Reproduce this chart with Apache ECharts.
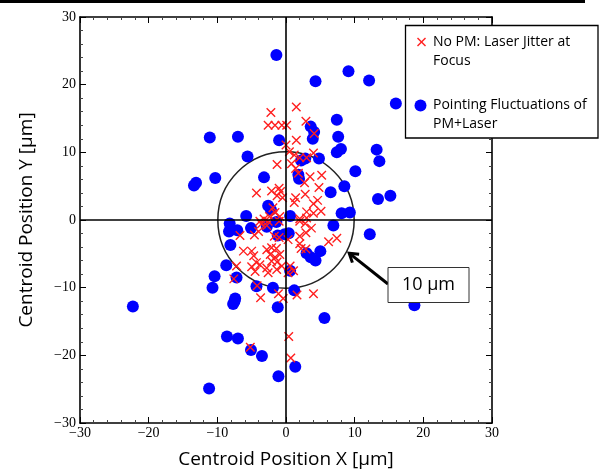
<!DOCTYPE html>
<html>
<head>
<meta charset="utf-8">
<script src="https://cdn.jsdelivr.net/npm/echarts@6/dist/echarts.min.js"></script>
<style>
  html, body { margin: 0; padding: 0; background: #fff; }
  #chart { width: 601px; height: 474px; }
</style>
</head>
<body>
<div id="chart"></div>
<script>
// Centroid positions in µm
const axisMin = -30;
const axisMax = 30;
const axisStep = 10;
const spotRadius = 10; // reference circle, µm

// No PM: laser jitter at focus
const noPmX = [
  -2.2, -2.6, -1.6, -0.6, 0.1, 1.5, 2.9, 4.1, 1.5, 0.0,
  0.5, 1.2, 2.0, 3.0, 4.0, -1.3, 0.8, 1.4, 1.8, 3.5,
  5.2, 2.7, 4.8, -4.3, -2.1, -1.0, -0.8, -1.3, -0.5, 1.4,
  1.2, 2.8, 4.0, 4.6, 3.0, 4.0, 5.1, -1.9, -1.6, -2.4,
  -3.2, -0.9, 2.0, 3.0, -3.8, -2.6, -3.6, -2.8, -1.0, 2.0,
  2.8, 3.7, -4.0, -4.6, -6.7, -1.7, -1.0, 2.0, 2.9, 6.2,
  7.4, 0.3, -6.2, -5.0, -4.7, -4.3, -5.0, -2.8, -2.1, -1.4,
  -2.3, -1.6, -0.9, -2.1, -1.3, -3.8, -2.8, -4.5, -2.6, -1.35,
  -0.6, -7.2, 2.0, 2.2, 2.9, 0.6, 1.1, 0.3, -7.6, -4.2,
  -3.7, -1.1, -0.4, 1.6, 4.0, 0.4, 0.7, -5.2
];
const noPmY = [
  15.9, 14.0, 14.0, 14.0, 14.0, 16.7, 14.6, 12.8, 11.8, 11.1,
  10.1, 9.6, 9.2, 9.2, 9.9, 8.2, 8.3, 7.6, 6.9, 6.4,
  6.6, 5.5, 4.8, 4.0, 4.3, 4.7, 4.2, 3.6, 3.3, 3.3,
  2.6, 3.8, 2.4, 2.9, 1.2, 1.0, 1.3, 1.8, 1.1, 0.5,
  0.15, 0.5, 0.2, 0.3, -0.2, -0.2, -0.6, -0.8, -0.2, -0.2,
  -0.5, -1.2, -1.7, -2.2, -2.3, -2.4, -2.6, -2.4, -1.9, -3.2,
  -2.7, -2.9, -4.6, -4.6, -5.3, -6.3, -6.9, -4.4, -4.1, -4.2,
  -5.1, -5.5, -5.1, -6.1, -6.2, -6.6, -7.1, -7.6, -7.8, -7.3,
  -6.8, -6.8, -3.5, -4.2, -4.3, -6.8, -7.5, -7.8, -8.7, -9.7,
  -11.5, -10.9, -11.6, -11.1, -10.9, -17.2, -20.4, -18.8
];

// Pointing fluctuations of PM + laser
const pmX = [
  -1.4, 9.1, 4.3, 12.1, 16.0, 7.4, 3.6, 4.1, 3.9, 7.6,
  -11.1, -7.0, -1.0, 8.0, 7.4, 13.2, 13.6, -5.6, 4.8, 2.2,
  2.8, 10.1, 1.8, 1.9, -10.3, -3.2, -13.1, -13.4, 8.5, 6.5,
  13.4, 15.2, -2.6, -2.2, 8.1, 9.3, -5.8, 0.6, -8.2, -1.4,
  -2.8, -5.1, -7.1, -8.3, 6.9, -1.2, -0.2, 0.4, 12.2, -8.1,
  3.0, 5.0, 4.3, 3.6, -8.7, 0.6, -7.2, -10.4, -10.7, -4.3,
  -1.9, 1.2, -7.4, -7.5, -7.7, -22.3, -1.2, 18.7, 5.6, -8.6,
  -7.0, -5.1, -3.5, 1.35, -1.1, -11.2
];
const pmY = [
  24.4, 22.0, 20.5, 20.6, 17.2, 14.8, 13.8, 13.0, 12.0, 12.3,
  12.2, 12.3, 11.8, 10.5, 10.0, 10.4, 8.7, 9.4, 9.1, 8.8,
  9.1, 7.2, 6.7, 6.1, 6.2, 6.3, 5.5, 5.1, 5.0, 4.1,
  3.1, 3.6, 2.1, 1.5, 1.0, 1.1, 0.6, 0.6, -0.5, -0.3,
  -1.0, -1.2, -1.5, -1.7, -0.8, -2.3, -2.1, -1.95, -2.1, -3.7,
  -4.9, -4.6, -6.0, -5.5, -6.7, -7.5, -8.5, -8.3, -10.0, -9.8,
  -10.0, -10.4, -11.6, -12.0, -12.4, -12.8, -12.9, -12.6, -14.5, -17.2,
  -17.5, -19.2, -20.1, -21.7, -23.1, -24.9
];

const legendNoPm = ['No PM: Laser Jitter at', 'Focus'];
const legendPm = ['Pointing Fluctuations of', 'PM+Laser'];
const xAxisTitle = 'Centroid Position X [\u03bcm]';
const yAxisTitle = 'Centroid Position Y [\u03bcm]';
const circleLabel = '10 \u03bcm';

const RED = '#ff1f1f';
const BLUE = '#0000ff';
const SERIF = '"Liberation Serif", "DejaVu Serif", serif';
const SANS = '"Open Sans", "Noto Sans", sans-serif';
const CROSS = 'path://M0,0L10,10M10,0L0,10';

const zip = (xs, ys) => xs.map((x, i) => [x, ys[i]]);
const minusFmt = v => String(v).replace('-', '\u2212');

function valueAxis(extra) {
  return Object.assign({
    type: 'value',
    min: axisMin,
    max: axisMax,
    interval: axisStep,
    axisLine: { show: true, onZero: false, lineStyle: { color: '#000', width: 1.6 } },
    axisTick: { show: true, inside: true, length: 6, lineStyle: { color: '#000', width: 1 } },
    minorTick: { show: true, splitNumber: 5, length: 3, lineStyle: { color: '#444', width: 1 } },
    splitLine: { show: false },
    axisLabel: { show: false }
  }, extra);
}

const labelStyle = { show: true, color: '#000', fontFamily: SERIF, fontSize: 14, formatter: minusFmt };

const chart = echarts.init(document.getElementById('chart'), null, { renderer: 'canvas' });

chart.setOption({
  animation: false,
  backgroundColor: '#fff',
  grid: { left: 80, right: 109, top: 17, bottom: 47, containLabel: false },
  xAxis: [
    valueAxis({
      position: 'bottom',
      axisLabel: Object.assign({ margin: 3 }, labelStyle),
      name: xAxisTitle,
      nameLocation: 'middle',
      nameGap: 27,
      nameTextStyle: { color: '#000', fontFamily: SANS, fontSize: 19 }
    }),
    valueAxis({ position: 'top' })
  ],
  yAxis: [
    valueAxis({
      position: 'left',
      axisLabel: Object.assign({ margin: 4 }, labelStyle),
      name: yAxisTitle,
      nameLocation: 'middle',
      nameRotate: 90,
      nameGap: 44,
      nameTextStyle: { color: '#000', fontFamily: SANS, fontSize: 19 }
    }),
    valueAxis({ position: 'right' })
  ],
  series: [
    {
      // crosshair through the origin
      type: 'scatter',
      data: [],
      z: 1,
      silent: true,
      markLine: {
        silent: true,
        symbol: ['none', 'none'],
        label: { show: false },
        lineStyle: { color: '#000', width: 1.6, type: 'solid' },
        emphasis: { disabled: true },
        data: [{ xAxis: 0 }, { yAxis: 0 }]
      }
    },
    {
      name: legendPm.join(' '),
      type: 'scatter',
      data: zip(pmX, pmY),
      symbol: 'circle',
      symbolSize: 12,
      itemStyle: { color: BLUE, opacity: 1 },
      emphasis: { disabled: true },
      z: 3
    },
    {
      name: legendNoPm.join(' '),
      type: 'scatter',
      data: zip(noPmX, noPmY),
      symbol: CROSS,
      symbolSize: 8.5,
      itemStyle: { color: 'rgba(0,0,0,0)', borderColor: RED, borderWidth: 1.4, opacity: 1 },
      emphasis: { disabled: true },
      z: 4
    }
  ]
});

// annotations placed through the axis scales
const toPx = p => chart.convertToPixel({ xAxisIndex: 0, yAxisIndex: 0 }, p);
const c0 = toPx([0, 0]);
const rx = toPx([spotRadius, 0])[0] - c0[0];
const ry = c0[1] - toPx([0, spotRadius])[1];
const r = (rx + ry) / 2;

// arrow from the label box to the circle edge
const tip = toPx([9.2, -4.9]);
const tail = [388, 284];
const dx = tip[0] - tail[0], dy = tip[1] - tail[1];
const len = Math.hypot(dx, dy);
const ux = dx / len, uy = dy / len;
const head = 10, spread = Math.PI / 5.5;
const rot = (a) => [
  tip[0] - head * (ux * Math.cos(a) - uy * Math.sin(a)),
  tip[1] - head * (uy * Math.cos(a) + ux * Math.sin(a))
];

const legendTextStyle = { fill: '#000', font: '14px ' + SANS };
const lg = { cx: 421.5, cy: 42, h: 4 }; // legend cross marker

chart.setOption({
  graphic: [
    {
      type: 'circle', z: 2, silent: true,
      shape: { cx: c0[0], cy: c0[1], r: r },
      style: { fill: 'none', stroke: '#222', lineWidth: 1.5 }
    },
    {
      type: 'line', z: 50, silent: true,
      shape: { x1: tail[0], y1: tail[1], x2: tip[0] - ux * 1.5, y2: tip[1] - uy * 1.5 },
      style: { stroke: '#000', lineWidth: 3 }
    },
    {
      type: 'polyline', z: 50, silent: true,
      shape: { points: [rot(spread), tip, rot(-spread)] },
      style: { stroke: '#000', lineWidth: 3, fill: 'none', lineJoin: 'miter' }
    },
    {
      type: 'rect', z: 51, silent: true,
      shape: { x: 388, y: 267.5, width: 81, height: 35 },
      style: { fill: '#fff', stroke: '#333', lineWidth: 1 }
    },
    {
      type: 'text', z: 52, silent: true,
      x: 428.5, y: 285,
      style: { text: circleLabel, fill: '#000', font: '18px ' + SANS, align: 'center', verticalAlign: 'middle' }
    },
    // legend
    {
      type: 'rect', z: 60, silent: true,
      shape: { x: 405.5, y: 25.5, width: 192.5, height: 112.5 },
      style: { fill: '#fff', stroke: '#000', lineWidth: 1.3 }
    },
    {
      type: 'line', z: 61, silent: true,
      shape: { x1: lg.cx - lg.h, y1: lg.cy - lg.h, x2: lg.cx + lg.h, y2: lg.cy + lg.h },
      style: { stroke: RED, lineWidth: 1.4 }
    },
    {
      type: 'line', z: 61, silent: true,
      shape: { x1: lg.cx + lg.h, y1: lg.cy - lg.h, x2: lg.cx - lg.h, y2: lg.cy + lg.h },
      style: { stroke: RED, lineWidth: 1.4 }
    },
    {
      type: 'text', z: 61, silent: true, x: 433, y: 42,
      style: Object.assign({ text: legendNoPm[0], verticalAlign: 'middle' }, legendTextStyle)
    },
    {
      type: 'text', z: 61, silent: true, x: 433, y: 61,
      style: Object.assign({ text: legendNoPm[1], verticalAlign: 'middle' }, legendTextStyle)
    },
    {
      type: 'circle', z: 61, silent: true,
      shape: { cx: 420.5, cy: 105.5, r: 6 },
      style: { fill: BLUE }
    },
    {
      type: 'text', z: 61, silent: true, x: 433, y: 105.5,
      style: Object.assign({ text: legendPm[0], verticalAlign: 'middle' }, legendTextStyle)
    },
    {
      type: 'text', z: 61, silent: true, x: 433, y: 124.5,
      style: Object.assign({ text: legendPm[1], verticalAlign: 'middle' }, legendTextStyle)
    },
    // heading rule along the top edge
    {
      type: 'rect', z: 61, silent: true,
      shape: { x: 0, y: 0, width: 585, height: 3 },
      style: { fill: '#000' }
    }
  ]
});
</script>
</body>
</html>
